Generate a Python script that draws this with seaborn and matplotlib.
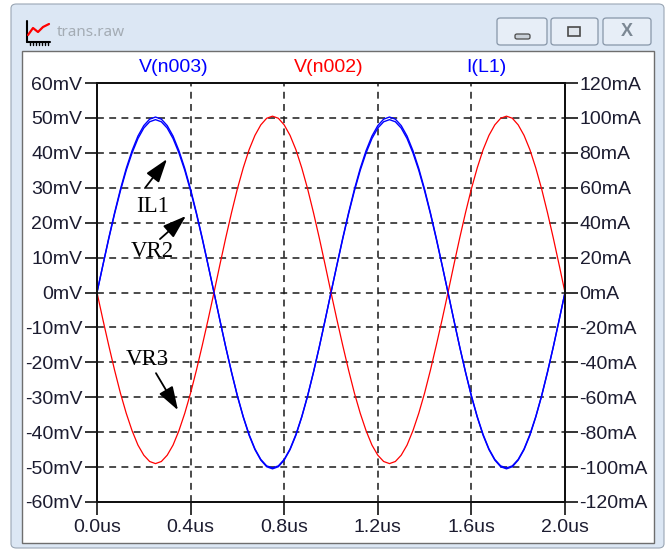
import numpy as np
import matplotlib
matplotlib.use("Agg")
import matplotlib.pyplot as plt
import seaborn as sns
from matplotlib.patches import Rectangle, FancyBboxPatch
from matplotlib.lines import Line2D
from matplotlib.ticker import FuncFormatter, MultipleLocator

# sample grid of the transient run, 0..2us
time_us = np.linspace(0.0, 2.0, 81)

# V(n003) in mV
v_n003 = [
    0.0, 7.7, 15.3, 22.5, 29.1, 35.0, 40.0, 44.1, 47.1, 48.9, 49.5,
    48.9, 47.1, 44.1, 40.0, 35.0, 29.1, 22.5, 15.3, 7.7, 0.0,
    -7.9, -15.6, -22.9, -29.7, -35.7, -40.9, -45.0, -48.0, -49.9, -50.5,
    -49.9, -48.0, -45.0, -40.9, -35.7, -29.7, -22.9, -15.6, -7.9, 0.0,
    7.7, 15.3, 22.5, 29.1, 35.0, 40.0, 44.1, 47.1, 48.9, 49.5,
    48.9, 47.1, 44.1, 40.0, 35.0, 29.1, 22.5, 15.3, 7.7, 0.0,
    -7.9, -15.6, -22.9, -29.7, -35.7, -40.9, -45.0, -48.0, -49.9, -50.5,
    -49.9, -48.0, -45.0, -40.9, -35.7, -29.7, -22.9, -15.6, -7.9, 0.0,
]

# V(n002) in mV
v_n002 = [
    0.0, -7.7, -15.1, -22.2, -28.8, -34.6, -39.6, -43.7, -46.6, -48.4, -49.0,
    -48.4, -46.6, -43.7, -39.6, -34.6, -28.8, -22.2, -15.1, -7.7, 0.0,
    7.9, 15.6, 22.9, 29.7, 35.7, 40.9, 45.0, 48.0, 49.9, 50.5,
    49.9, 48.0, 45.0, 40.9, 35.7, 29.7, 22.9, 15.6, 7.9, 0.0,
    -7.7, -15.1, -22.2, -28.8, -34.6, -39.6, -43.7, -46.6, -48.4, -49.0,
    -48.4, -46.6, -43.7, -39.6, -34.6, -28.8, -22.2, -15.1, -7.7, 0.0,
    7.9, 15.6, 22.9, 29.7, 35.7, 40.9, 45.0, 48.0, 49.9, 50.5,
    49.9, 48.0, 45.0, 40.9, 35.7, 29.7, 22.9, 15.6, 7.9, 0.0,
]

# I(L1) in mA (right axis)
i_l1 = [
    0.0, 15.7, 31.1, 45.6, 59.1, 71.1, 81.3, 89.6, 95.6, 99.3, 100.5,
    99.3, 95.6, 89.6, 81.3, 71.1, 59.1, 45.6, 31.1, 15.7, 0.0,
    -15.7, -31.1, -45.6, -59.1, -71.1, -81.3, -89.6, -95.6, -99.3, -100.5,
    -99.3, -95.6, -89.6, -81.3, -71.1, -59.1, -45.6, -31.1, -15.7, 0.0,
    15.7, 31.1, 45.6, 59.1, 71.1, 81.3, 89.6, 95.6, 99.3, 100.5,
    99.3, 95.6, 89.6, 81.3, 71.1, 59.1, 45.6, 31.1, 15.7, 0.0,
    -15.7, -31.1, -45.6, -59.1, -71.1, -81.3, -89.6, -95.6, -99.3, -100.5,
    -99.3, -95.6, -89.6, -81.3, -71.1, -59.1, -45.6, -31.1, -15.7, 0.0,
]

trace_names = ["V(n003)", "V(n002)", "I(L1)"]
trace_colors = ["#0000ff", "#ff0000", "#0000ff"]

# hand-written labels: (text, text pos, arrow tail, arrow tip) in (us, mV)
labels = [
    ("IL1", (0.239, 24.5), (0.205, 29.9), (0.299, 38.2)),
    ("VR2", (0.235, 11.6), (0.269, 15.3), (0.380, 21.9)),
    ("VR3", (0.214, -19.3), (0.252, -23.1), (0.346, -33.7)),
]

W, H = 671, 549


def fx(x):
    return x / W


def fy(y):
    return 1 - y / H


sns.set_style("ticks")
plt.rcParams["font.family"] = ["Liberation Sans", "DejaVu Sans"]

fig = plt.figure(figsize=(W / 100, H / 100), dpi=100)
fig.patch.set_facecolor("white")

# window chrome
fig.patches.append(FancyBboxPatch((fx(11), fy(548)), (664 - 11) / W, (548 - 4) / H,
                                  boxstyle="round,pad=0,rounding_size=0.008",
                                  fc="#dce7f4", ec="#9aa6b4", lw=0.8,
                                  transform=fig.transFigure, zorder=-5))
fig.patches.append(Rectangle((fx(22), fy(543)), (654 - 22) / W, (543 - 51) / H,
                             fc="white", ec="#6e6e6e", lw=1.0,
                             transform=fig.transFigure, zorder=-4))
for x0, x1 in [(497, 547), (551, 598), (603, 651)]:
    fig.patches.append(FancyBboxPatch((fx(x0), fy(45)), (x1 - x0) / W, 27 / H,
                                      boxstyle="round,pad=0,rounding_size=0.005",
                                      fc="#e7eef7", ec="#8796a8", lw=0.9,
                                      transform=fig.transFigure, zorder=-3))
fig.patches.append(FancyBboxPatch((fx(515), fy(39)), 15 / W, 5 / H,
                                  boxstyle="round,pad=0,rounding_size=0.003",
                                  fc="#c9d0d8", ec="#4a4a4a", lw=0.9,
                                  transform=fig.transFigure, zorder=-2))
fig.patches.append(Rectangle((fx(568), fy(36)), 12 / W, 9 / H,
                             fc="#dfe5ec", ec="#4a4a4a", lw=1.2,
                             transform=fig.transFigure, zorder=-2))
fig.text(fx(627), fy(31), "X", ha="center", va="center", fontsize=13,
         fontweight="bold", color="#7c8894")

# little graph icon
icon = [([27, 27], [21, 42], "black", 1.5), ([27, 50], [42, 42], "black", 1.5),
        ([28, 33, 38, 43, 49], [35, 28, 32, 27, 24], "#ff0000", 1.6)]
for xs, ys, c, lw in icon:
    fig.lines.append(Line2D([fx(v) for v in xs], [fy(v) for v in ys], color=c,
                            lw=lw, transform=fig.transFigure))
for xt in range(30, 50, 3):
    fig.lines.append(Line2D([fx(xt), fx(xt)], [fy(42), fy(45)], color="black",
                            lw=1.0, transform=fig.transFigure))
fig.text(fx(57), fy(33), "trans.raw", ha="left", va="center", fontsize=11,
         color="#a4acb4", family=["Noto Sans", "DejaVu Sans"])

# plot area
ax = fig.add_axes([fx(97), fy(502), (565 - 97) / W, (502 - 83) / H])
ax2 = ax.twinx()

sns.lineplot(x=time_us, y=v_n003, ax=ax, color=trace_colors[0], linewidth=1.0,
             legend=False)
sns.lineplot(x=time_us, y=v_n002, ax=ax, color=trace_colors[1], linewidth=0.9,
             legend=False)
sns.lineplot(x=time_us, y=i_l1, ax=ax2, color=trace_colors[2], linewidth=1.0,
             legend=False)

ax.set_xlim(0, 2.0)
ax.set_ylim(-60, 60)
ax2.set_ylim(-120, 120)
ax.xaxis.set_major_locator(MultipleLocator(0.4))
ax.yaxis.set_major_locator(MultipleLocator(10))
ax2.yaxis.set_major_locator(MultipleLocator(20))
ax.xaxis.set_major_formatter(FuncFormatter(lambda v, p: f"{v:.1f}us"))
ax.yaxis.set_major_formatter(FuncFormatter(lambda v, p: f"{v:.0f}mV"))
ax2.yaxis.set_major_formatter(FuncFormatter(lambda v, p: f"{v:.0f}mA"))
ax.set_xlabel("")
ax.set_ylabel("")
ax2.set_ylabel("")

ax.grid(True, color="#1a1a1a", linestyle=(0, (4.5, 3.5)), linewidth=1.1)
tick_col = "#1c1c30"
for a in (ax, ax2):
    for s in a.spines.values():
        s.set_visible(True)
        s.set_color("#111111")
        s.set_linewidth(1.4)
    a.tick_params(direction="out", length=9, width=1.2, color="#111111",
                  labelsize=14, labelcolor=tick_col, pad=1.5)
ax.tick_params(axis="x", pad=3)

for name, xpix, col in zip(trace_names, [174, 329, 486], trace_colors):
    fig.text(fx(xpix), fy(68), name, ha="center", va="center", fontsize=14,
             color=col)

for text, tpos, tail, tip in labels:
    ax.text(tpos[0], tpos[1], text, ha="center", va="center", fontsize=16.5,
            family=["Liberation Serif", "DejaVu Serif"], color="black")
    ax.annotate("", xy=tip, xytext=tail,
                arrowprops=dict(arrowstyle="-|>,head_length=0.9,head_width=0.3",
                                mutation_scale=16, color="black", lw=1.3,
                                shrinkA=0, shrinkB=0))

fig.savefig("out.png", dpi=100)
